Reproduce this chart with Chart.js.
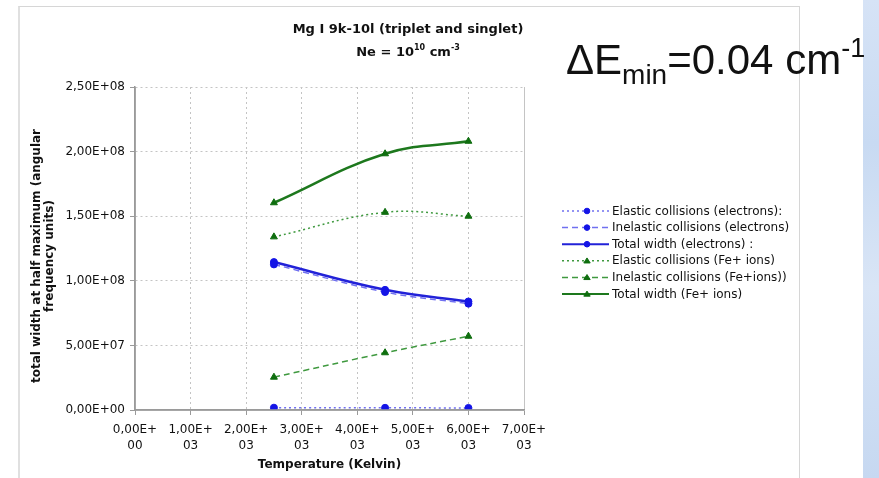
<!DOCTYPE html>
<html>
<head>
<meta charset="utf-8">
<script src="https://cdn.jsdelivr.net/npm/chart.js@4.4.1/dist/chart.umd.min.js"></script>
<style>
html,body{margin:0;padding:0;background:#fff;width:879px;height:478px;overflow:hidden;position:relative;}
#frame{position:absolute;left:18px;top:6px;width:782px;height:520px;border:1px solid #d6d6d6;border-left:2px solid #e0e0e0;box-sizing:border-box;}
#side{position:absolute;left:863px;top:0;width:16px;height:478px;background:linear-gradient(180deg,#d6e3f6 0%,#c8daf2 30%,#d9e5f6 60%,#c6d8f1 100%);}
#chartCanvas{position:absolute;left:0;top:0;}
#delta{position:absolute;left:566px;top:39px;font-family:'Liberation Sans',Arial,sans-serif;font-size:42px;line-height:42px;color:#111;white-space:nowrap;}
#delta .sub{font-size:28px;position:relative;top:10px;}
#delta .sup{font-size:27px;position:relative;top:-17px;}
</style>
</head>
<body>
<div id="frame"></div>
<div id="side"></div>
<canvas id="chartCanvas" width="879" height="478"></canvas>
<div id="delta">ΔE<span class="sub">min</span>=0.04 cm<span class="sup">-1</span></div>
<script>
// ---- data ----
const temperatures = [2500, 4500, 6000];
const elasticElectrons = [1.8e6, 1.7e6, 1.6e6];
const inelasticElectrons = [1.127e8, 0.913e8, 0.823e8];
const totalElectrons = [1.145e8, 0.930e8, 0.840e8];
const elasticFeIons = [1.34e8, 1.53e8, 1.50e8];
const inelasticFeIons = [0.254e8, 0.443e8, 0.571e8];
const totalFeIons = [1.604e8, 1.983e8, 2.080e8];
const seriesLabels = [
  'Elastic collisions (electrons):',
  'Inelastic collisions (electrons)',
  'Total width (electrons) :',
  'Elastic collisions (Fe+ ions)',
  'Inelastic collisions (Fe+ions))',
  'Total width (Fe+ ions)'
];
const xTickValues = [0, 1000, 2000, 3000, 4000, 5000, 6000, 7000];
const yTickValues = [0, 5e7, 1e8, 1.5e8, 2e8, 2.5e8];
const titleLine1 = 'Mg I 9k-10l (triplet and singlet)';
const xTitle = 'Temperature (Kelvin)';
const yTitleLines = ['total width at half maximum (angular', 'frequency units)'];

// ---- helpers ----
function sci(v) {
  if (v === 0) return '0,00E+00';
  const e = Math.floor(Math.log10(Math.abs(v)) + 1e-9);
  const m = v / Math.pow(10, e);
  return m.toFixed(2).replace('.', ',') + 'E+' + String(e).padStart(2, '0');
}
const pts = arr => temperatures.map((t, i) => ({x: t, y: arr[i]}));
const FONT = "'DejaVu Sans', Verdana, sans-serif";

const BLUE = '#1414e6', BLUE_LINE = '#2222d8', BLUE_LIGHT = '#7070f0';
const GREEN = '#0f6e0f', GREEN_LINE = '#1d781d', GREEN_LIGHT = '#3f993f';

function ds(label, arr, marker, line, dash, width, style, radius) {
  return {
    label, data: pts(arr), borderColor: line, backgroundColor: marker,
    pointBackgroundColor: marker, pointBorderColor: marker, pointBorderWidth: 1,
    borderDash: dash, borderWidth: width, pointStyle: style, pointRadius: radius,
    tension: 0.4, fill: false
  };
}
const datasets = [
  ds(seriesLabels[0], elasticElectrons, BLUE, BLUE_LIGHT, [2, 3], 1.5, 'circle', 3.5),
  ds(seriesLabels[1], inelasticElectrons, BLUE, BLUE_LIGHT, [6, 4], 1.5, 'circle', 3.5),
  ds(seriesLabels[2], totalElectrons, BLUE, BLUE_LINE, [], 2.5, 'circle', 3.5),
  ds(seriesLabels[3], elasticFeIons, GREEN, GREEN_LIGHT, [2, 3], 1.5, 'triangle', 4),
  ds(seriesLabels[4], inelasticFeIons, GREEN, GREEN_LIGHT, [6, 4], 1.5, 'triangle', 4),
  ds(seriesLabels[5], totalFeIons, GREEN, GREEN_LINE, [], 2.5, 'triangle', 4)
];

function marker(ctx, style, x, y, r, color) {
  ctx.save();
  ctx.setLineDash([]);
  ctx.fillStyle = color; ctx.strokeStyle = color; ctx.lineWidth = 1;
  ctx.beginPath();
  if (style === 'circle') {
    ctx.arc(x, y, r, 0, Math.PI * 2);
  } else {
    const h = r * 1.5;
    ctx.moveTo(x, y - h * 0.6);
    ctx.lineTo(x + r, y + h * 0.45);
    ctx.lineTo(x - r, y + h * 0.45);
    ctx.closePath();
  }
  ctx.fill(); ctx.stroke();
  ctx.restore();
}

const decorations = {
  id: 'decorations',
  afterDraw(chart) {
    const ctx = chart.ctx;
    ctx.save();
    ctx.fillStyle = '#111';
    ctx.font = 'bold 13px ' + FONT;
    ctx.textAlign = 'center';
    ctx.textBaseline = 'alphabetic';
    ctx.fillText(titleLine1, 408, 33);
    const parts = [
      {t: 'Ne = 10', s: 13, dy: 0},
      {t: '10', s: 8, dy: -6},
      {t: ' cm', s: 13, dy: 0},
      {t: '-3', s: 8, dy: -6}
    ];
    let total = 0;
    parts.forEach(p => { ctx.font = 'bold ' + p.s + 'px ' + FONT; p.w = ctx.measureText(p.t).width; total += p.w; });
    let x = 408 - total / 2;
    ctx.textAlign = 'left';
    parts.forEach(p => { ctx.font = 'bold ' + p.s + 'px ' + FONT; ctx.fillText(p.t, x, 56 + p.dy); x += p.w; });
    ctx.font = 'bold 12px ' + FONT;
    ctx.textAlign = 'center';
    ctx.fillText(xTitle, 329.5, 468);
    const yb = [40, 53];
    yTitleLines.forEach((line, i) => {
      ctx.save();
      ctx.translate(yb[i], 256);
      ctx.rotate(-Math.PI / 2);
      ctx.fillText(line, 0, 0);
      ctx.restore();
    });
    // solid axis lines
    const a = chart.chartArea;
    ctx.save();
    ctx.strokeStyle = '#9a9a9a';
    ctx.lineWidth = 1.5;
    ctx.beginPath();
    ctx.moveTo(a.left, a.top); ctx.lineTo(a.left, a.bottom); ctx.lineTo(a.right, a.bottom);
    ctx.stroke();
    ctx.restore();
    chart.data.datasets.forEach((d, i) => {
      const y = 211 + i * 16.6;
      ctx.save();
      ctx.strokeStyle = d.borderColor;
      ctx.lineWidth = Math.min(d.borderWidth, 2);
      ctx.setLineDash(d.borderDash);
      ctx.beginPath(); ctx.moveTo(562, y); ctx.lineTo(609, y); ctx.stroke();
      ctx.restore();
      marker(ctx, d.pointStyle, 587, y, d.pointStyle === 'circle' ? 2.8 : 3.2, d.pointBackgroundColor);
      ctx.font = '12px ' + FONT;
      ctx.fillStyle = '#111';
      ctx.textAlign = 'left';
      ctx.textBaseline = 'middle';
      ctx.fillText(d.label, 612, y + 0.5);
    });
    ctx.restore();
  }
};

const gridColor = c => (c.tick && c.tick.value === 0) ? 'rgba(0,0,0,0)' : '#c4c4c4';

new Chart(document.getElementById('chartCanvas'), {
  type: 'line',
  data: {datasets},
  plugins: [decorations],
  options: {
    responsive: false,
    animation: false,
    events: [],
    layout: {padding: {left: 18, top: 87, right: 355, bottom: 0}},
    plugins: {legend: {display: false}, title: {display: false}, tooltip: {enabled: false}},
    scales: {
      x: {
        type: 'linear', min: 0, max: 7000,
        afterBuildTicks: s => { s.ticks = xTickValues.map(v => ({value: v})); },
        afterFit: s => { s.height = 68; },
        ticks: {
          callback: v => { const s = sci(v); return [s.slice(0, 6), s.slice(6)]; },
          font: {family: FONT, size: 12, lineHeight: 1.33},
          color: '#111', maxRotation: 0, autoSkip: false, padding: 7
        },
        grid: {color: gridColor, lineWidth: 1, tickLength: 5, tickColor: '#9a9a9a'},
        border: {color: '#9a9a9a', width: 1.5, dash: c => (c.tick && c.tick.value === 7000) ? [] : [2, 3]}
      },
      y: {
        type: 'linear', min: 0, max: 2.5e8,
        afterBuildTicks: s => { s.ticks = yTickValues.map(v => ({value: v})); },
        afterFit: s => { s.width = 117; },
        ticks: {
          callback: v => sci(v),
          font: {family: FONT, size: 12},
          color: '#111', padding: 5
        },
        grid: {color: gridColor, lineWidth: 1, tickLength: 5, tickColor: '#9a9a9a'},
        border: {color: '#9a9a9a', width: 1.5, dash: [2, 3]}
      }
    }
  }
});
</script>
</body>
</html>
